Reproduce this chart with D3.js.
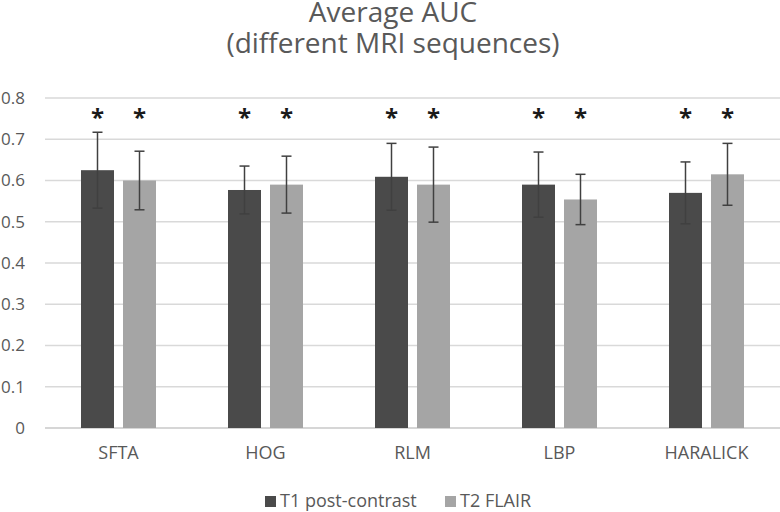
<!DOCTYPE html>
<html>
<head>
<meta charset="utf-8">
<script src="https://cdn.jsdelivr.net/npm/d3@7"></script>
<style>
body{margin:0;background:#fff;}
text{font-family:"Open Sans","Noto Sans",sans-serif;fill:#595959;}
</style>
</head>
<body>
<svg id="chart" width="780" height="512"></svg>
<script>
const categories = ["SFTA","HOG","RLM","LBP","HARALICK"];
const seriesNames = ["T1 post-contrast","T2 FLAIR"];
const t1Values = [0.625,0.577,0.609,0.590,0.570];
const t1Errors = [0.092,0.058,0.081,0.079,0.075];
const t2Values = [0.600,0.590,0.590,0.554,0.615];
const t2Errors = [0.071,0.069,0.091,0.061,0.075];
const significance = [["*","*"],["*","*"],["*","*"],["*","*"],["*","*"]];
const yTicks = [0,0.1,0.2,0.3,0.4,0.5,0.6,0.7,0.8];
const colors = ["#4a4a4a","#a5a5a5"];

(function(){
const svg = d3.select("#chart");
const pLeft = 45, pRight = 780, pTop = 98, pBottom = 428;
const FONT = '"Open Sans","Noto Sans",sans-serif';

const x = d3.scaleBand().domain(categories).range([pLeft,pRight]).paddingInner(0).paddingOuter(0);
const y = d3.scaleLinear().domain([0,0.8]).range([pBottom,pTop]);
const barW = 33, gap = 9;

// gridlines
svg.append("g").selectAll("line").data(yTicks).join("line")
  .attr("x1",pLeft).attr("x2",pRight)
  .attr("y1",d=>y(d)).attr("y2",d=>y(d))
  .attr("stroke",d=>d===0?"#c8c8c8":"#d9d9d9").attr("stroke-width",1.3);

// y axis labels
const yAxis = d3.axisLeft(y).tickValues(yTicks).tickSize(0).tickPadding(0)
  .tickFormat(d=>d===0?"0":d3.format(".1f")(d));
const ga = svg.append("g").attr("transform",`translate(25,0)`).call(yAxis);
ga.select(".domain").remove();
ga.selectAll("text").attr("font-size",17).attr("fill","#595959").style("font-family",FONT);

// x axis labels
const xAxis = d3.axisBottom(x).tickSize(0).tickPadding(0);
const gx = svg.append("g").attr("transform",`translate(0,${pBottom+18})`).call(xAxis);
gx.select(".domain").remove();
gx.selectAll("text").attr("font-size",18).attr("fill","#595959").style("font-family",FONT);

const data = [];
categories.forEach((c,i)=>{
  data.push({c,s:0,v:t1Values[i],e:t1Errors[i],sig:significance[i][0]});
  data.push({c,s:1,v:t2Values[i],e:t2Errors[i],sig:significance[i][1]});
});
const cx = d => x(d.c)+x.bandwidth()/2 + (d.s===0 ? -(gap/2+barW/2) : (gap/2+barW/2));

svg.append("g").selectAll("rect").data(data).join("rect")
  .attr("x",d=>cx(d)-barW/2).attr("width",barW)
  .attr("y",d=>y(d.v)).attr("height",d=>y(0)-y(d.v))
  .attr("fill",d=>colors[d.s]);

// error bars
const eb = svg.append("g").attr("stroke","#404040").attr("stroke-width",1.5);
data.forEach(d=>{
  eb.append("line").attr("x1",cx(d)).attr("x2",cx(d)).attr("y1",y(d.v+d.e)).attr("y2",y(d.v-d.e));
  eb.append("line").attr("x1",cx(d)-5).attr("x2",cx(d)+5).attr("y1",y(d.v+d.e)).attr("y2",y(d.v+d.e));
  eb.append("line").attr("x1",cx(d)-5).attr("x2",cx(d)+5).attr("y1",y(d.v-d.e)).attr("y2",y(d.v-d.e));
});

// asterisks
svg.append("g").selectAll("text").data(data).join("text")
  .attr("x",d=>cx(d)).attr("y",y(0.8)+28)
  .attr("text-anchor","middle").attr("font-size",24).attr("font-weight","bold")
  .style("fill","#1a1a1a").text(d=>d.sig);

// title
svg.append("text").attr("x",393).attr("y",22).attr("text-anchor","middle")
  .attr("font-size",28).text("Average AUC");
svg.append("text").attr("x",393).attr("y",53).attr("text-anchor","middle")
  .attr("font-size",28).text("(different MRI sequences)");

// legend
const lg = svg.append("g");
const legX = [265,445];
seriesNames.forEach((n,i)=>{
  lg.append("rect").attr("x",legX[i]).attr("y",496).attr("width",11).attr("height",11).attr("fill",colors[i]);
  lg.append("text").attr("x",legX[i]+15).attr("y",507).attr("font-size",18).text(n);
});
})();
</script>
</body>
</html>
